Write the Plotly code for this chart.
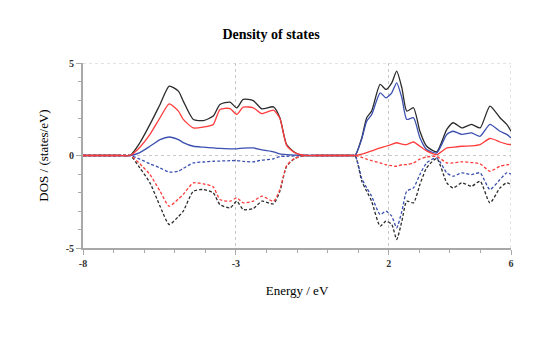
import plotly.graph_objects as go

energy = [-8, -7.2, -6.8, -6.46, -6.14, -5.81, -5.48, -5.18, -4.88, -4.72, -4.39, -4.06, -3.74, -3.52, -3.19,
          -2.97, -2.76, -2.43, -2.15, -1.77, -1.56, -1.34, -1.07, -0.74, -0.4, 0.0, 0.5, 0.75,
          0.90, 1.12, 1.28, 1.44, 1.72, 1.91, 2.10, 2.26, 2.43, 2.59, 2.81, 3.02, 3.24, 3.57,
          3.90, 4.11, 4.39, 4.71, 4.99, 5.31, 5.64, 5.86, 6.0]

total_up = [0, 0, 0, 0, 0.69, 1.68, 2.76, 3.75, 3.48, 2.94, 1.95, 1.89, 2.13, 2.76, 2.88,
            2.57, 3.03, 2.97, 2.52, 2.63, 2.04, 0.59, 0.16, 0, 0, 0, 0, 0,
            0, 0.96, 2.04, 2.4, 3.84, 3.57, 3.93, 4.56, 3.66, 2.4, 2.58, 1.31, 0.5, 0.2,
            1.41, 1.77, 1.49, 1.68, 1.49, 2.67, 2.04, 1.68, 1.31]
red_up = [0, 0, 0, 0, 0.45, 1.14, 2.04, 2.79, 2.4, 1.95, 1.49, 1.54, 1.68, 2.49, 2.54,
          2.22, 2.61, 2.58, 2.26, 2.45, 2.0, 0.55, 0.15, 0, 0, 0, 0, 0,
          0, 0.08, 0.16, 0.25, 0.41, 0.5, 0.6, 0.69, 0.62, 0.59, 0.73, 0.5, 0.25, 0.05,
          0.41, 0.45, 0.5, 0.52, 0.59, 0.92, 0.73, 0.62, 0.59]
blue_up = [0, 0, 0, 0, 0.16, 0.5, 0.86, 1.0, 0.86, 0.7, 0.5, 0.45, 0.41, 0.38, 0.36,
           0.36, 0.4, 0.41, 0.3, 0.2, 0.09, 0.05, 0.02, 0, 0, 0, 0, 0,
           0, 0.9, 1.86, 2.2, 3.39, 3.12, 3.39, 3.93, 3.12, 1.95, 2.04, 0.96, 0.32, 0.14,
           1.14, 1.31, 1.14, 1.22, 1.04, 1.68, 1.31, 1.14, 0.96]
total_down = [0, 0, 0, 0, -0.67, -1.48, -2.74, -3.73, -3.3, -3.01, -1.93, -1.84, -2.02, -2.65, -2.83,
              -2.47, -2.92, -2.87, -2.47, -2.61, -1.93, -0.59, -0.16, 0, 0, 0, 0, 0,
              0, -1.39, -1.93, -2.47, -3.82, -3.55, -3.73, -4.54, -3.55, -2.47, -2.56, -1.57, -0.67, -0.16,
              -1.48, -1.75, -1.48, -1.66, -1.39, -2.56, -1.75, -1.48, -1.57]
red_down = [0, 0, 0, 0, -0.45, -1.03, -1.93, -2.74, -2.35, -2.1, -1.48, -1.53, -1.7, -2.38, -2.47,
            -2.29, -2.56, -2.47, -2.2, -2.47, -1.84, -0.55, -0.15, 0, 0, 0, 0, 0,
            0, -0.1, -0.2, -0.28, -0.4, -0.5, -0.55, -0.58, -0.5, -0.49, -0.4, -0.2, -0.08, -0.05,
            -0.4, -0.4, -0.34, -0.38, -0.45, -0.85, -0.58, -0.5, -0.49]
blue_down = [0, 0, 0, 0, -0.2, -0.45, -0.67, -0.9, -0.85, -0.7, -0.4, -0.35, -0.31, -0.3, -0.28,
             -0.27, -0.32, -0.34, -0.25, -0.18, -0.06, -0.04, -0.02, 0, 0, 0, 0, 0,
             0, -1.25, -1.75, -2.2, -3.19, -3.01, -3.28, -3.91, -3.01, -1.93, -1.75, -1.03, -0.4, -0.13,
             -0.94, -1.12, -0.94, -1.03, -0.94, -1.84, -1.3, -0.94, -1.0]

x_ticks = [-8, -3, 2, 6]
y_ticks = [-5, 0, 5]

BLACK = "#2b2b2b"
RED = "#ff3b3b"
BLUE = "#3a4fb0"

fig = go.Figure()
series = [
    (total_up, BLACK, "solid"), (total_down, BLACK, "3px,2px"),
    (blue_up, BLUE, "solid"), (blue_down, BLUE, "3px,2px"),
    (red_up, RED, "solid"), (red_down, RED, "3px,2px"),
]
for ys, c, d in series:
    fig.add_trace(go.Scatter(x=energy, y=ys, mode="lines",
                             line=dict(color=c, width=1.3, dash=d, shape="spline", smoothing=0.6),
                             showlegend=False, hoverinfo="skip"))

serif = "Liberation Serif"
fig.update_layout(
    width=542, height=343,
    margin=dict(l=83, r=31, t=63, b=95),
    paper_bgcolor="white", plot_bgcolor="white",
    title=dict(text="<b>Density of states</b>", x=0.5, xanchor="center", y=0.9, yanchor="middle",
               font=dict(family=serif, size=14, color="black")),
    xaxis=dict(range=[-8, 6], tickvals=x_ticks, ticktext=["<b>%d</b>" % v for v in x_ticks],
               showgrid=True, gridcolor="#c8c8c8", griddash="dot", gridwidth=1,
               zeroline=False, showline=True, linecolor="#a8a8a8", linewidth=2,
               ticks="outside", ticklen=5, tickcolor="#a8a8a8",
               minor=dict(dtick=1, tick0=-8, ticks="outside", ticklen=3, tickcolor="#a8a8a8", showgrid=False),
               tickfont=dict(family=serif, size=10, color="#333"),
               title=dict(text="Energy / eV", font=dict(family=serif, size=13, color="black"), standoff=18),
               mirror=False),
    yaxis=dict(range=[-5, 5], tickvals=y_ticks, ticktext=["<b>%d</b>" % v for v in y_ticks],
               showgrid=True, gridcolor="#c8c8c8", griddash="dot", gridwidth=1,
               zeroline=False, showline=True, linecolor="#a8a8a8", linewidth=2,
               ticks="outside", ticklen=5, tickcolor="#a8a8a8",
               minor=dict(dtick=1, tick0=-5, ticks="outside", ticklen=3, tickcolor="#a8a8a8", showgrid=False),
               tickfont=dict(family=serif, size=10, color="#333"),
               title=dict(text="DOS / (states/eV)", font=dict(family=serif, size=13, color="black"), standoff=14)),
)
fig.add_shape(type="line", xref="x", yref="y", x0=6, x1=6, y0=-5, y1=5,
              line=dict(color="#c8c8c8", width=1, dash="dot"), layer="below")
fig.add_shape(type="line", xref="x", yref="y", x0=-8, x1=6, y0=5, y1=5,
              line=dict(color="#c8c8c8", width=1, dash="dot"), layer="below")

fig.write_html("out.html")
